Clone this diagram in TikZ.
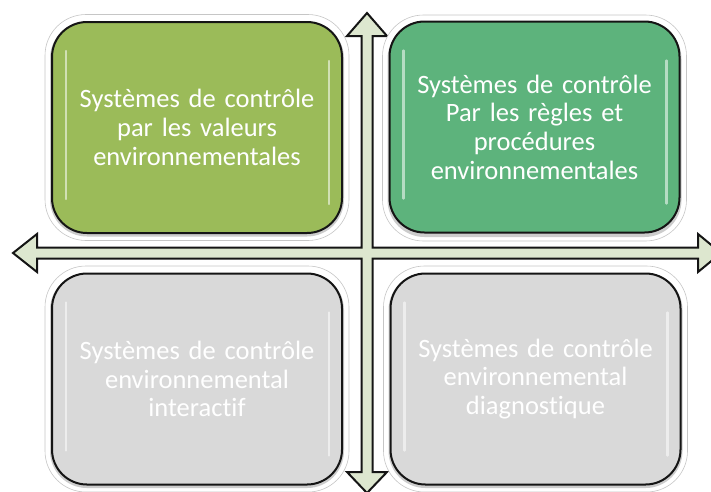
\documentclass[tikz,border=0pt]{standalone}
\usepackage{fontspec}
\setmainfont[Ligatures=NoCommon]{Carlito}
\definecolor{olivebox}{HTML}{9BBB59}
\definecolor{greenbox}{HTML}{5DB37C}
\definecolor{graybox}{HTML}{D9D9D9}
\definecolor{arrowfill}{HTML}{DDE7CF}
\definecolor{edge}{HTML}{151515}
\begin{document}
\begin{tikzpicture}[x=1pt,y=-1pt,
  quad/.style={draw=edge, line width=2pt, rounded corners=35pt,
    minimum width=290pt, minimum height=211pt, text=white,
    text width=280pt, align=center, inner sep=0pt,
    font=\fontsize{26.5}{28.7}\selectfont},
  halo/.style={draw=gray!45, line width=0.6pt, fill=white, rounded corners=41pt},
  haze/.style={fill=gray!40, rounded corners=37pt},
  gloss/.style={draw=white, line width=2.4pt, line cap=round, opacity=0.55}]
\useasboundingbox (0,0) rectangle (711,491);
\clip (0,0) rectangle (711,491);
% cross of double arrows
\draw[draw=edge, line width=2pt, fill=arrowfill, line join=miter]
  (367,13) -- (387,36) -- (372.5,36) -- (372.5,247.5) -- (698,247.5) -- (698,234)
  -- (721,253) -- (698,272) -- (698,258.5) -- (372.5,258.5) -- (372.5,472)
  -- (387,472) -- (367,493) -- (347,472) -- (361.5,472) -- (361.5,258.5)
  -- (37,258.5) -- (37,272) -- (13,253) -- (37,234) -- (37,247.5)
  -- (361.5,247.5) -- (361.5,36) -- (347,36) -- cycle;
% boxes
\foreach \cx/\cy/\n in {197/127.5/a, 534.5/128/b, 197/379/c, 535.5/379/d}{
  \draw[halo] (\cx-152,\cy-113) rectangle (\cx+152,\cy+113);
  \fill[haze] (\cx-147,\cy-106) rectangle (\cx+147,\cy+109);
}
\node[quad, fill=olivebox] (tl) at (197,127.5)
  {Systèmes de contrôle\\par les valeurs\\environnementales};
\node[quad, fill=greenbox] (tr) at (534.5,127)
  {Systèmes de contrôle\\Par les règles et\\procédures\\environnementales};
\node[quad, fill=graybox] (bl) at (197,379)
  {Systèmes de contrôle\\environnemental\\interactif};
\node[quad, fill=graybox] (br) at (535.5,379)
  {Systèmes de contrôle\\environnemental\\diagnostique};
% gloss highlights
\foreach \b in {tl,tr,bl,br}{
  \draw[gloss] ([shift={(15,30)}]\b.north west) -- ([shift={(15,-35)}]\b.south west);
  \draw[gloss] ([shift={(-14,40)}]\b.north east) -- ([shift={(-14,-30)}]\b.south east);
}
\end{tikzpicture}
\end{document}
